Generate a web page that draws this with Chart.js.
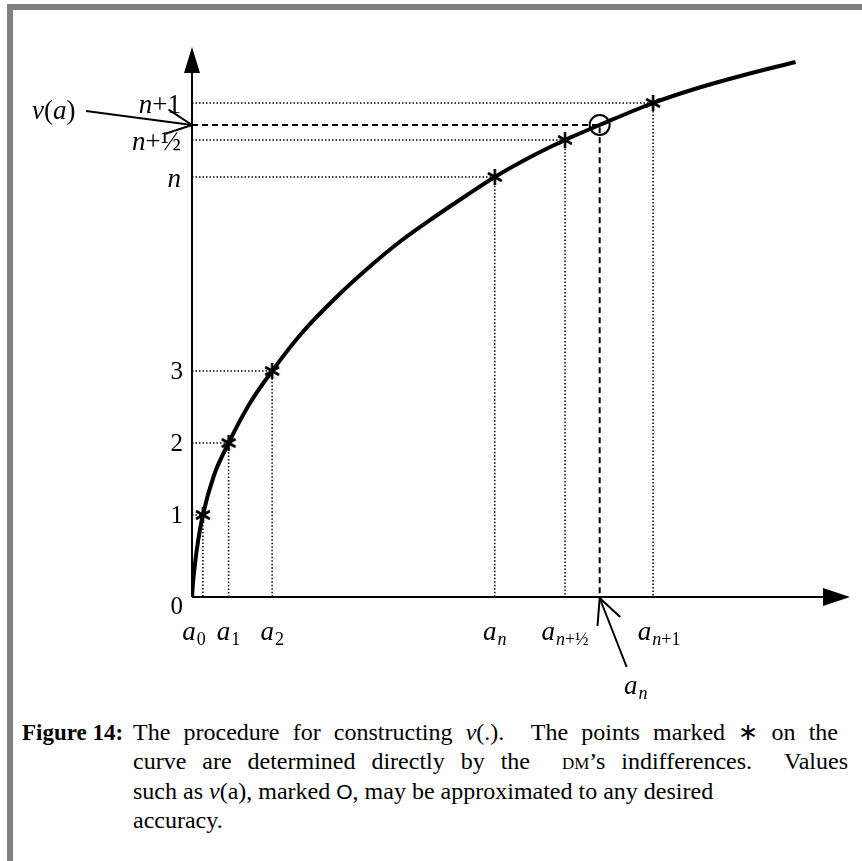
<!DOCTYPE html>
<html>
<head>
<meta charset="utf-8">
<script src="https://cdn.jsdelivr.net/npm/chart.js@4.4.1/dist/chart.umd.min.js"></script>
<style>
  body { margin: 0; background: #fff; }
  #wrap { position: relative; width: 862px; height: 861px; overflow: hidden; }
  #frame {
    position: absolute; left: 7px; top: 4px; width: 900px; height: 900px;
    border-top: 6px solid #808080; border-left: 6px solid #808080;
  }
  #chart { position: absolute; left: 0; top: 0; }
  .cap { position: absolute; font-family: "Liberation Serif", serif; font-size: 24px; color: #000; white-space: nowrap; }
  .cap b { font-weight: bold; font-size: 23px; }
  .just { text-align: justify; text-align-last: justify; white-space: normal; }
  .sc { font-size: 17px; }
</style>
</head>
<body>
<div id="wrap">
  <div id="frame"></div>
  <canvas id="chart" width="862" height="700"></canvas>
  <div class="cap" style="left:22px; top:719px;"><b>Figure 14:</b></div>
  <div class="cap just" style="left:133px; top:718px; width:705px;">The procedure for constructing <i>v</i>(.). &nbsp;The points marked ∗ on the</div>
  <div class="cap just" style="left:133px; top:748px; width:715px;">curve are determined directly by the &nbsp;<span class="sc">DM</span>’s indifferences. &nbsp;Values</div>
  <div class="cap" style="left:133px; top:778px;">such as <i>v</i>(a), marked <span style="font-family:'Liberation Sans'; font-size:21px">O</span>, may be approximated to any desired</div>
  <div class="cap" style="left:133px; top:807px;">accuracy.</div>
</div>
<script>
// value curve v(a) (axis units)
const curveX = [0, 1, 3, 6, 11, 22, 37, 58, 81, 111, 145, 178, 211, 245, 278, 306, 342, 377, 412, 466, 508, 558, 610];
const curveY = [0, 14, 33, 55, 82, 121, 154, 193, 226, 264, 299, 329, 356, 380, 402, 420, 440, 457, 472, 494, 508, 522, 535];

// points fixed by the DM's indifferences (marked *)
const pointX = [11, 37, 81, 306, 377, 466];
const pointY = [82, 154, 226, 420, 457, 494];
const xTickLabels = [["a", "0"], ["a", "1"], ["a", "2"], ["a", "n"], ["a", "n+½"], ["a", "n+1"]];

// y tick labels
const yTickValues = [0, 82, 154, 226, 420, 457, 494];
const yTickLabels = ["0", "1", "2", "3", "n", "n+½", "n+1"];

// the approximated value v(a), marked O
const vaX = 412;
const vaY = 472;

const xMax = 665;
const yMax = 550;

const SERIF = "'Liberation Serif', 'Times New Roman', serif";

// six-armed asterisk used as point style
function makeAsterisk() {
  const c = document.createElement("canvas");
  c.width = 20;
  c.height = 20;
  const g = c.getContext("2d");
  g.strokeStyle = "#000";
  g.lineWidth = 2.6;
  g.translate(10, 10);
  [90, 30, 150].forEach((deg) => {
    const r = (deg * Math.PI) / 180;
    g.beginPath();
    g.moveTo(-8 * Math.cos(r), -8 * Math.sin(r));
    g.lineTo(8 * Math.cos(r), 8 * Math.sin(r));
    g.stroke();
  });
  return c;
}

// draw text where letters are italic and the rest roman
function drawMixed(ctx, text, x, y, size, align) {
  const parts = text.split(/([a-z]+)/).filter((p) => p.length);
  const fontOf = (p) => (/^[a-z]+$/.test(p) ? "italic " : "") + size + "px " + SERIF;
  let w = 0;
  parts.forEach((p) => {
    ctx.font = fontOf(p);
    w += ctx.measureText(p).width;
  });
  let cx = align === "right" ? x - w : align === "center" ? x - w / 2 : x;
  ctx.textAlign = "left";
  parts.forEach((p) => {
    ctx.font = fontOf(p);
    ctx.fillText(p, cx, y);
    cx += ctx.measureText(p).width;
  });
  return w;
}

function drawSubLabel(ctx, base, sub, x, y) {
  ctx.font = "italic 27px " + SERIF;
  const wb = ctx.measureText(base).width;
  const parts = sub.split(/([a-z]+)/).filter((p) => p.length);
  let ws = 0;
  parts.forEach((p) => {
    ctx.font = (/^[a-z]+$/.test(p) ? "italic " : "") + "18px " + SERIF;
    ws += ctx.measureText(p).width;
  });
  const left = x - (wb + ws + 1) / 2;
  ctx.font = "italic 27px " + SERIF;
  ctx.fillText(base, left, y);
  drawMixed(ctx, sub, left + wb + 1, y + 5, 18, "left");
}

function line(ctx, x1, y1, x2, y2, w) {
  ctx.lineWidth = w;
  ctx.beginPath();
  ctx.moveTo(x1, y1);
  ctx.lineTo(x2, y2);
  ctx.stroke();
}

// open arrowhead at (tx,ty) coming from (fx,fy)
function openArrow(ctx, fx, fy, tx, ty) {
  line(ctx, fx, fy, tx, ty, 2);
  const a = Math.atan2(ty - fy, tx - fx);
  [0.45, -0.45].forEach((d) => {
    line(ctx, tx, ty, tx - 28 * Math.cos(a + d), ty - 28 * Math.sin(a + d), 2);
  });
}

const figurePlugin = {
  id: "figure",
  afterDatasetsDraw(chart) {
    const { ctx } = chart;
    const xs = chart.scales.x;
    const ys = chart.scales.y;
    const x0 = xs.getPixelForValue(0);
    const y0 = ys.getPixelForValue(0);
    const xEnd = xs.getPixelForValue(xMax);
    const yEnd = ys.getPixelForValue(yMax);

    ctx.save();
    ctx.strokeStyle = "#000";
    ctx.fillStyle = "#000";
    ctx.setLineDash([]);

    // axes with solid arrowheads
    line(ctx, x0, y0, xEnd - 20, y0, 2);
    line(ctx, x0, y0, x0, yEnd + 20, 2);
    ctx.beginPath();
    ctx.moveTo(xEnd, y0);
    ctx.lineTo(xEnd - 27, y0 - 9);
    ctx.lineTo(xEnd - 27, y0 + 9);
    ctx.closePath();
    ctx.fill();
    ctx.beginPath();
    ctx.moveTo(x0, yEnd);
    ctx.lineTo(x0 - 8, yEnd + 26);
    ctx.lineTo(x0 + 8, yEnd + 26);
    ctx.closePath();
    ctx.fill();

    // y tick labels
    ctx.textBaseline = "alphabetic";
    yTickLabels.forEach((lab, i) => {
      const py = ys.getPixelForValue(yTickValues[i]);
      if (i === 0) {
        drawMixed(ctx, lab, x0 - 9, py + 17, 25, "right");
      } else if (/[a-z]/.test(lab)) {
        drawMixed(ctx, lab, x0 - 11, py + 10, 27, "right");
      } else {
        drawMixed(ctx, lab, x0 - 9, py + 8, 25, "right");
      }
    });

    // x tick labels
    xTickLabels.forEach((lab, i) => {
      let px = xs.getPixelForValue(pointX[i]);
      if (i === 0) px -= 9;
      if (i === xTickLabels.length - 1) px += 6;
      drawSubLabel(ctx, lab[0], lab[1], px, y0 + 43);
    });

    // v(a) label with arrow to the y axis
    const vaPy = ys.getPixelForValue(vaY);
    drawMixed(ctx, "v(a)", 32, vaPy - 6, 27, "left");
    openArrow(ctx, 86, vaPy - 14, x0, vaPy);

    // a_n label with arrow to the x axis
    const vaPx = xs.getPixelForValue(vaX);
    drawSubLabel(ctx, "a", "n", vaPx + 36, y0 + 97);
    openArrow(ctx, vaPx + 27, y0 + 70, vaPx, y0 + 1);

    ctx.restore();
  },
};

const asterisk = makeAsterisk();
const toXY = (xArr, yArr) => xArr.map((v, i) => ({ x: v, y: yArr[i] }));

// dotted guide lines from each point to both axes
const guideSets = pointX.map((px, i) => ({
  type: "line",
  data: [
    { x: 0, y: pointY[i] },
    { x: px, y: pointY[i] },
    { x: px, y: 0 },
  ],
  borderColor: "#000",
  borderWidth: 1.5,
  borderDash: [1.5, 2],
  pointRadius: 0,
  fill: false,
  order: 5,
}));

new Chart(document.getElementById("chart"), {
  type: "scatter",
  data: {
    datasets: [
      {
        type: "line",
        data: toXY(curveX, curveY),
        borderColor: "#000",
        borderWidth: 4,
        cubicInterpolationMode: "monotone",
        pointRadius: 0,
        fill: false,
        order: 2,
      },
      {
        data: toXY(pointX, pointY),
        pointStyle: asterisk,
        order: 1,
      },
      {
        data: [{ x: vaX, y: vaY }],
        pointStyle: "circle",
        pointRadius: 10,
        borderColor: "#000",
        borderWidth: 2,
        backgroundColor: "rgba(0,0,0,0)",
        order: 1,
      },
      {
        type: "line",
        data: [
          { x: 0, y: vaY },
          { x: vaX, y: vaY },
          { x: vaX, y: 0 },
        ],
        borderColor: "#000",
        borderWidth: 2,
        borderDash: [6, 4],
        pointRadius: 0,
        fill: false,
        order: 4,
      },
      ...guideSets,
    ],
  },
  options: {
    responsive: false,
    animation: false,
    events: [],
    layout: { padding: { left: 192, top: 47, right: 5, bottom: 103 } },
    scales: {
      x: { type: "linear", min: 0, max: xMax, display: false },
      y: { type: "linear", min: 0, max: yMax, display: false },
    },
    plugins: {
      legend: { display: false },
      tooltip: { enabled: false },
    },
  },
  plugins: [figurePlugin],
});
</script>
</body>
</html>
